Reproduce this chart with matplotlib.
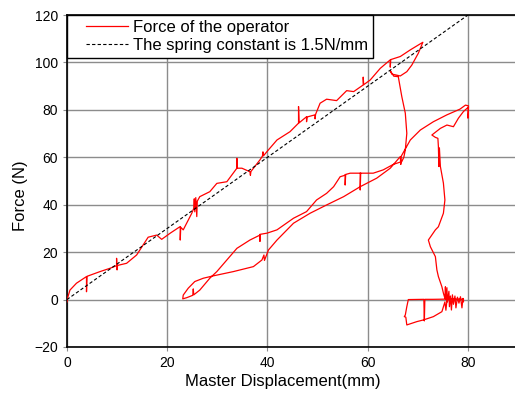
import matplotlib
matplotlib.use("Agg")
import matplotlib.pyplot as plt
from matplotlib.lines import Line2D
from matplotlib.legend_handler import HandlerLine2D
import numpy as np

plt.rcParams['font.family'] = ['Liberation Sans', 'DejaVu Sans']

# force of the operator (mm, N), one continuous trace
force_x = [
    # loading
    0.0, 0.1, 0.6, 1.9, 3.9, 3.9, 4.0, 6.6, 8.6, 9.9, 9.9, 10.0, 10.1, 11.9,
    13.9, 15.2, 16.2, 17.9, 18.9, 20.6, 22.6, 22.6, 22.7, 23.2, 24.9, 25.3,
    25.4, 25.5, 25.7, 25.9, 26.0, 26.5, 28.5, 29.9, 31.9, 33.9, 33.9, 34.0,
    34.9, 36.5, 36.6, 36.7, 38.5, 39.0, 39.1, 39.2, 39.9, 41.9, 44.5, 46.2,
    46.2, 46.3, 47.8, 47.8, 47.9, 49.5, 49.5, 49.6, 50.5, 51.8, 53.8, 55.8,
    57.2, 59.1, 59.1, 59.2, 60.5, 62.5, 64.5, 64.5, 64.6, 66.5, 68.5, 71.0,
    # top loop back
    70.1, 68.8, 67.8, 66.5, 64.8, 64.5, 65.2, 66.1,
    # drop
    66.8, 67.5, 67.8, 67.5, 67.2, 66.8, 65.1,
    # middle curve going down
    63.1, 61.1, 58.5, 58.5, 58.6, 56.5, 55.5, 55.5, 55.6, 54.5, 53.2, 51.8,
    49.8, 47.8, 45.2, 41.9, 39.9, 38.5, 38.5, 38.6, 36.5, 33.9, 31.9, 29.9,
    28.5, 26.5, 25.3, 25.2, 25.1, 23.9, 23.1,
    # middle curve going up
    23.2, 24.2, 25.5, 27.2, 29.2, 33.2, 37.2, 38.9, 39.3, 39.4, 40.2, 41.9,
    45.2, 48.5, 51.8, 55.2, 58.5, 61.8, 64.5, 66.5, 66.6, 66.7, 68.5, 70.5,
    73.1, 75.8, 78.4, 79.5, 80.1, 80.0, 80.1,
    # unloading
    79.1, 78.1, 77.1, 75.8, 74.5, 72.8, 73.5, 74.0, 74.1, 74.2, 74.3, 74.5,
    75.1, 75.4, 75.1, 74.1, 73.5, 72.1, 72.5, 73.5, 73.8, 74.1, 74.8, 75.1,
    75.4,
    # chatter near zero
    75.5, 75.6, 75.8, 75.9, 76.2, 76.3, 76.5, 76.7, 76.9, 77.1, 77.4, 77.6,
    77.9, 78.2, 78.5, 78.8, 79.0, 79.1, 79.1,
    # bottom loop
    76.0, 73.0, 71.4, 71.3, 71.2, 68.1, 67.8, 67.5, 67.3, 67.6, 67.8, 69.8,
    71.1, 73.1, 74.8, 75.1, 75.4, 75.6, 75.8,
]
force_y = [
    -1.0, 0.5, 4.0, 6.9, 9.7, 3.3, 9.8, 11.8, 13.2, 14.3, 17.4, 12.5, 14.4, 15.3,
    18.8, 23.0, 26.3, 27.2, 25.4, 28.0, 30.8, 25.1, 30.5, 29.4, 36.4, 38.5,
    42.5, 37.0, 43.0, 35.0, 41.5, 43.4, 45.5, 49.0, 49.7, 55.4, 59.6, 55.4,
    55.4, 53.9, 52.4, 54.0, 58.9, 60.5, 62.3, 60.6, 62.4, 67.3, 70.8, 74.4,
    81.4, 74.5, 77.1, 75.0, 77.0, 77.9, 76.2, 78.1, 82.8, 84.5, 83.9, 88.1,
    87.7, 90.5, 93.8, 90.6, 92.6, 97.5, 101.1, 98.0, 101.2, 102.5, 105.3, 108.5,
    103.9, 98.9, 96.1, 94.3, 95.1, 96.5, 94.2, 94.0,
    85.6, 78.6, 70.1, 63.1, 60.0, 58.2, 57.0,
    54.7, 53.3, 53.3, 46.2, 53.3, 53.3, 52.7, 48.3, 52.5, 51.8, 47.6, 44.8,
    42.0, 37.1, 34.3, 29.4, 28.0, 27.5, 24.5, 27.3, 25.1, 21.6, 16.7, 11.8,
    9.0, 4.0, 2.0, 4.5, 1.8, 0.8, 0.3,
    1.9, 4.8, 7.6, 9.0, 10.0, 11.8, 13.9, 16.7, 18.8, 16.5, 20.9, 25.1,
    32.2, 36.4, 39.9, 43.4, 47.6, 51.2, 55.4, 60.3, 57.0, 60.5, 67.3, 71.5,
    75.0, 77.9, 80.3, 82.0, 81.7, 76.5, 81.2,
    79.3, 76.5, 72.9, 73.6, 72.2, 69.4, 68.4, 68.0, 64.5, 56.1, 64.0, 56.1,
    49.1, 42.0, 36.4, 30.7, 29.4, 25.1, 22.3, 18.1, 12.5, 9.7, 5.4, 2.7,
    0.5,
    5.4, 0.0, 5.0, -1.0, 3.5, -3.0, 1.5, -4.4, 2.0, -2.0, 1.5, -3.5,
    1.0, -1.5, 1.2, -3.5, 0.5, -1.0, 0.1,
    0.2, 0.1, 0.1, -9.0, 0.1, 0.0, -3.0, -6.5, -7.2, -7.4, -10.7, -9.3,
    -8.6, -7.2, -5.1, -3.0, -1.0, -4.5, -0.5,
]

spring_x = [0, 80]
spring_y = [0, 120]

fig = plt.figure(figsize=(5.15, 3.94), dpi=100)
ax = fig.add_axes([0.130, 0.1193, 0.876, 0.8426])

ax.plot(force_x, force_y, color='red', lw=0.9, label='Force of the operator', zorder=3)
ax.plot(spring_x, spring_y, color='black', lw=0.8, ls=(0, (3, 2)),
        label='The spring constant is 1.5N/mm', zorder=4)

ax.set_xlim(0, 90)
ax.set_ylim(-20, 120)
ax.set_xticks([0, 20, 40, 60, 80])
ax.set_yticks(np.arange(-20, 121, 20))
ax.grid(True, color='#8c8c8c', lw=1.0)
ax.set_axisbelow(True)
ax.tick_params(direction='out', length=3, color='#8c8c8c', labelsize=10)
for s in ax.spines.values():
    s.set_linewidth(1.2)

ax.set_xlabel('Master Displacement(mm)', fontsize=12)
ax.set_ylabel('Force (N)', fontsize=12)
ax.xaxis.set_label_coords(0.479, -0.082)
ax.yaxis.set_label_coords(-0.087, 0.455)

leg = ax.legend(loc='upper left', bbox_to_anchor=(0, 1), borderaxespad=0,
                fontsize=12, fancybox=False, edgecolor='black', framealpha=1,
                handlelength=4.2, handletextpad=-0.54, borderpad=0.3,
                labelspacing=0.15,
                handler_map={Line2D: HandlerLine2D(numpoints=2, marker_pad=0.84)})
leg.get_frame().set_linewidth(1.0)

fig.savefig('out.png', dpi=100)
